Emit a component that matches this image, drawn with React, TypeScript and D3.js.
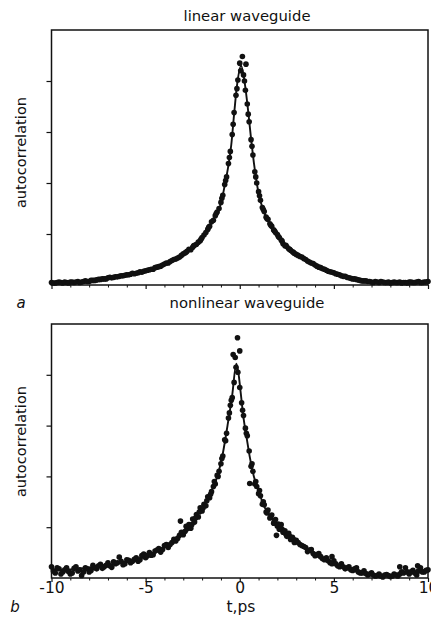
import React, { useEffect, useRef } from 'react';
import * as d3 from 'd3';

type Pt = [number, number];

// axis ticks (t in ps, autocorrelation in arbitrary units)
const xTicks = [-10, -5, 0, 5, 10];
const xMinorTicks = [-9, -8, -7, -6, -4, -3, -2, -1, 1, 2, 3, 4, 6, 7, 8, 9];
const yTicks = [1, 2, 3, 4];
const panelTitles = ['linear waveguide', 'nonlinear waveguide'];
const panelLetters = ['a', 'b'];
const xLabel = 't,ps';
const yLabel = 'autocorrelation';

// panel a: measured points
const linearDots: Pt[] = [
    [-10.0, 0.05], [-9.8, 0.04], [-9.6, 0.06], [-9.4, 0.04], [-9.2, 0.05], [-9.0, 0.06], [-8.8, 0.05],
    [-8.6, 0.07], [-8.4, 0.06], [-8.2, 0.08], [-8.0, 0.07], [-7.8, 0.09], [-7.6, 0.1], [-7.4, 0.11],
    [-7.2, 0.12], [-7.0, 0.14], [-6.8, 0.14], [-6.6, 0.16], [-6.4, 0.17], [-6.2, 0.18], [-6.0, 0.2],
    [-5.8, 0.21], [-5.6, 0.22], [-5.4, 0.24], [-5.2, 0.25], [-5.0, 0.28], [-4.8, 0.3], [-4.6, 0.31],
    [-4.4, 0.35], [-4.2, 0.37], [-4.0, 0.41], [-3.8, 0.43], [-3.6, 0.48], [-3.4, 0.51], [-3.2, 0.55],
    [-9.9, 0.04], [-9.7, 0.05], [-9.5, 0.05], [-9.3, 0.06], [-9.1, 0.04], [-8.9, 0.06], [-8.7, 0.06],
    [-8.5, 0.05], [-8.3, 0.07], [-8.1, 0.07], [-7.9, 0.09], [-7.7, 0.09], [-7.5, 0.11], [-7.3, 0.12],
    [-7.1, 0.12], [-6.9, 0.15], [-6.7, 0.15], [-6.5, 0.16], [-6.3, 0.18], [-6.1, 0.19], [-5.9, 0.2],
    [-5.7, 0.23], [-5.5, 0.23], [-5.3, 0.26], [-5.1, 0.27], [-4.9, 0.29], [-4.7, 0.31], [-4.5, 0.34],
    [-4.3, 0.36], [-4.1, 0.39], [-3.9, 0.43], [-3.7, 0.46], [-3.5, 0.5], [-3.3, 0.53], [-3.1, 0.58],
    [-3.0, 0.61], [-2.9, 0.63], [-2.8, 0.66], [-2.7, 0.7], [-2.6, 0.69], [-2.5, 0.74], [-2.4, 0.78],
    [-2.3, 0.8], [-2.2, 0.84], [-2.1, 0.87], [-2.0, 0.93], [-1.9, 0.98], [-1.8, 1.03], [-1.7, 1.09],
    [-1.6, 1.15], [-1.5, 1.24], [-1.4, 1.27], [-1.3, 1.36], [-1.2, 1.43], [-1.1, 1.5], [-1.0, 1.62],
    [-2.85, 0.64], [-2.45, 0.77], [-2.05, 0.9], [-1.65, 1.13], [-1.25, 1.4], [-0.95, 1.7],
    [-0.75, 2.05], [-0.55, 2.5], [-0.35, 3.15], [-0.15, 3.85],
    [-0.9, 1.76], [-0.8, 1.97], [-0.7, 2.12], [-0.6, 2.38], [-0.5, 2.62], [-0.4, 2.95], [-0.3, 3.38],
    [-0.2, 3.72], [-0.1, 4.02], [0.0, 4.35], [0.05, 4.2], [0.14, 4.48], [0.33, 4.33], [0.2, 4.12],
    [0.3, 3.82], [0.4, 3.55], [0.5, 3.2], [0.6, 2.85], [0.7, 2.55], [0.8, 2.22], [0.9, 2.0],
    [0.25, 4.0], [0.45, 3.35], [0.65, 2.72], [0.85, 2.12], [1.05, 1.75], [1.25, 1.48], [1.45, 1.3],
    [1.65, 1.17], [1.85, 1.06], [2.05, 0.95], [2.25, 0.86], [2.45, 0.78], [2.65, 0.7], [2.85, 0.64],
    [1.0, 1.83], [1.1, 1.66], [1.2, 1.52], [1.3, 1.44], [1.4, 1.33], [1.5, 1.29], [1.6, 1.2],
    [1.7, 1.15], [1.8, 1.08], [1.9, 1.03], [2.0, 0.99], [2.1, 0.93], [2.2, 0.88], [2.3, 0.81],
    [2.4, 0.77], [2.5, 0.75], [2.6, 0.71], [2.7, 0.68], [2.8, 0.65], [2.9, 0.62], [3.0, 0.6],
    [3.2, 0.56], [3.4, 0.52], [3.6, 0.47], [3.8, 0.43], [4.0, 0.39], [4.2, 0.35], [4.4, 0.32],
    [4.6, 0.29], [4.8, 0.26], [5.0, 0.24], [5.2, 0.21], [5.4, 0.18], [5.6, 0.17], [5.8, 0.14],
    [6.0, 0.12], [6.2, 0.11], [6.4, 0.09], [6.6, 0.08], [6.8, 0.07], [7.0, 0.06], [7.2, 0.07],
    [7.4, 0.05], [7.6, 0.06], [7.8, 0.05], [8.0, 0.04], [8.2, 0.06], [8.4, 0.05], [8.6, 0.04],
    [8.8, 0.05], [9.0, 0.06], [9.2, 0.05], [9.4, 0.06], [9.6, 0.05], [9.8, 0.06], [10.0, 0.07],
    [3.1, 0.58], [3.3, 0.55], [3.5, 0.5], [3.7, 0.45], [3.9, 0.42], [4.1, 0.37], [4.3, 0.34],
    [4.5, 0.31], [4.7, 0.27], [4.9, 0.25], [5.1, 0.22], [5.3, 0.2], [5.5, 0.17], [5.7, 0.15],
    [5.9, 0.13], [6.1, 0.12], [6.3, 0.1], [6.5, 0.08], [6.7, 0.08], [6.9, 0.07], [7.1, 0.05],
    [7.3, 0.06], [7.5, 0.07], [7.7, 0.05], [7.9, 0.06], [8.1, 0.05], [8.3, 0.05], [8.5, 0.06],
    [8.7, 0.05], [8.9, 0.04], [9.1, 0.06], [9.3, 0.05], [9.5, 0.07], [9.7, 0.05], [9.9, 0.06],
];

// panel a: fitted curve
const linearFit: Pt[] = [
    [-10, 0.04], [-9, 0.05], [-8, 0.08], [-7, 0.13], [-6, 0.19], [-5, 0.27], [-4.5, 0.33], [-4, 0.4],
    [-3.5, 0.5], [-3, 0.6], [-2.5, 0.73], [-2, 0.92], [-1.5, 1.22], [-1.2, 1.42], [-1, 1.6],
    [-0.8, 1.95], [-0.6, 2.35], [-0.45, 2.75], [-0.3, 3.35], [-0.15, 3.9], [0.07, 4.3], [0.27, 3.95],
    [0.45, 3.4], [0.62, 2.8], [0.75, 2.4], [1, 1.8], [1.3, 1.42], [1.7, 1.14], [2, 0.98], [2.4, 0.78],
    [3, 0.6], [3.5, 0.49], [4, 0.38], [4.5, 0.3], [5, 0.23], [5.5, 0.17], [6, 0.12], [6.5, 0.08],
    [7, 0.06], [8, 0.05], [9, 0.05], [10, 0.06],
];

// panel b: measured points
const nonlinearDots: Pt[] = [
    [-10.0, 0.22], [-9.8, 0.1], [-9.6, 0.18], [-9.4, 0.12], [-9.2, 0.2], [-9.0, 0.08], [-8.8, 0.19],
    [-8.6, 0.14], [-8.4, 0.05], [-8.2, 0.2], [-8.0, 0.12], [-7.8, 0.25], [-7.6, 0.18], [-7.4, 0.27],
    [-7.2, 0.22], [-7.0, 0.3], [-6.8, 0.21], [-6.6, 0.28], [-6.4, 0.41], [-6.2, 0.26], [-6.0, 0.36],
    [-5.8, 0.3], [-5.6, 0.37], [-5.4, 0.33], [-5.2, 0.44], [-5.0, 0.4], [-4.8, 0.5], [-4.6, 0.46],
    [-4.4, 0.55], [-4.2, 0.51], [-4.0, 0.64], [-3.8, 0.6], [-3.6, 0.7], [-3.4, 0.73], [-3.2, 0.84],
    [-9.9, 0.14], [-9.7, 0.2], [-9.5, 0.08], [-9.3, 0.16], [-9.1, 0.13], [-8.9, 0.1], [-8.7, 0.22],
    [-8.5, 0.16], [-8.3, 0.12], [-8.1, 0.18], [-7.9, 0.15], [-7.7, 0.2], [-7.5, 0.24], [-7.3, 0.19],
    [-7.1, 0.25], [-6.9, 0.24], [-6.7, 0.32], [-6.5, 0.3], [-6.3, 0.33], [-6.1, 0.28], [-5.9, 0.35],
    [-5.7, 0.33], [-5.5, 0.4], [-5.3, 0.36], [-5.1, 0.47], [-4.9, 0.44], [-4.7, 0.45], [-4.5, 0.53],
    [-4.3, 0.58], [-4.1, 0.56], [-3.9, 0.66], [-3.7, 0.66], [-3.5, 0.76], [-3.3, 0.78], [-3.1, 0.9],
    [-3.0, 0.85], [-3.15, 1.12], [-2.9, 0.92], [-2.8, 0.97], [-2.7, 1.05], [-2.6, 0.98], [-2.5, 1.16],
    [-2.4, 1.1], [-2.3, 1.25], [-2.2, 1.2], [-2.1, 1.38], [-2.0, 1.32], [-1.9, 1.45], [-1.8, 1.42],
    [-1.7, 1.6], [-1.6, 1.58], [-1.5, 1.7], [-1.4, 1.8], [-1.3, 1.85], [-1.2, 2.02], [-1.1, 2.1],
    [-2.85, 1.02], [-2.55, 1.05], [-2.35, 1.18], [-2.15, 1.3], [-1.95, 1.38], [-1.75, 1.52],
    [-1.55, 1.65], [-1.35, 1.9], [-1.15, 2.0], [-0.95, 2.35], [-0.75, 2.7], [-0.55, 3.25], [-0.45, 3.5],
    [-1.0, 2.25], [-0.9, 2.4], [-0.8, 2.72], [-0.7, 2.85], [-0.6, 3.15], [-0.5, 3.4], [-0.4, 3.55],
    [-0.35, 4.4], [-0.3, 3.85], [-0.24, 4.34], [-0.2, 4.15], [-0.12, 4.73], [-0.1, 4.05], [0.0, 4.47],
    [0.0, 3.75], [0.1, 3.45], [0.2, 3.2], [0.3, 2.95], [0.4, 2.8], [0.5, 2.5], [0.53, 1.86],
    [0.15, 3.3], [0.35, 2.85], [0.65, 2.25], [0.85, 1.9], [1.05, 1.72], [1.25, 1.5], [1.45, 1.28],
    [1.65, 1.2], [1.85, 1.12], [2.05, 1.06], [2.25, 0.96], [2.45, 0.86], [2.65, 0.82], [2.85, 0.76],
    [0.6, 2.2], [0.7, 2.1], [0.8, 1.85], [0.9, 1.8], [1.0, 1.66], [1.1, 1.62], [1.2, 1.45],
    [1.3, 1.44], [1.4, 1.3], [1.5, 1.34], [1.6, 1.18], [1.7, 1.24], [1.8, 1.08], [1.9, 1.15],
    [1.95, 0.84], [2.0, 1.02], [2.1, 0.96], [2.2, 1.05], [2.3, 0.9], [2.4, 0.93], [2.5, 0.82],
    [2.6, 0.88], [2.7, 0.76], [2.8, 0.8], [2.9, 0.7], [3.0, 0.74], [3.2, 0.66], [3.4, 0.62],
    [3.6, 0.52], [3.8, 0.56], [4.0, 0.44], [4.2, 0.48], [4.4, 0.38], [4.6, 0.4], [4.8, 0.3],
    [4.9, 0.42], [5.0, 0.34], [5.2, 0.24], [5.4, 0.28], [5.6, 0.18], [5.8, 0.22], [6.0, 0.15],
    [6.2, 0.2], [6.4, 0.1], [6.6, 0.14], [6.8, 0.06], [7.0, 0.1], [7.2, 0.04], [7.4, 0.08],
    [7.6, 0.02], [7.8, 0.07], [8.0, 0.03], [8.2, 0.08], [8.4, 0.04], [8.5, 0.22], [8.6, 0.12],
    [8.8, 0.2], [9.0, 0.08], [9.2, 0.15], [9.4, 0.06], [9.45, 0.24], [9.6, 0.2], [9.8, 0.12],
    [10.0, 0.16],
    [3.1, 0.7], [3.3, 0.64], [3.5, 0.6], [3.7, 0.55], [3.9, 0.48], [4.1, 0.46], [4.3, 0.42],
    [4.5, 0.36], [4.7, 0.34], [4.9, 0.28], [5.1, 0.28], [5.3, 0.22], [5.5, 0.22], [5.7, 0.2],
    [5.9, 0.16], [6.1, 0.18], [6.3, 0.12], [6.5, 0.1], [6.7, 0.09], [6.9, 0.08], [7.1, 0.06],
    [7.3, 0.05], [7.5, 0.04], [7.7, 0.06], [7.9, 0.05], [8.1, 0.04], [8.3, 0.06], [8.5, 0.08],
    [8.7, 0.1], [8.9, 0.12], [9.1, 0.12], [9.3, 0.1], [9.5, 0.14], [9.7, 0.12], [9.9, 0.15],
];

// panel b: fitted curve
const nonlinearFit: Pt[] = [
    [-10, 0.15], [-9, 0.17], [-8, 0.21], [-7, 0.26], [-6, 0.32], [-5, 0.42], [-4, 0.6], [-3.5, 0.72],
    [-3, 0.88], [-2.5, 1.1], [-2.1, 1.33], [-1.8, 1.5], [-1.5, 1.72], [-1.15, 2.05], [-0.9, 2.45],
    [-0.65, 3.0], [-0.4, 3.6], [-0.18, 4.22], [-0.05, 3.98], [0.05, 3.65], [0.2, 3.15], [0.35, 2.8],
    [0.55, 2.35], [0.75, 2.0], [1, 1.72], [1.25, 1.45], [1.6, 1.22], [2, 1.05], [2.3, 0.93],
    [3, 0.72], [3.5, 0.58], [4, 0.45], [4.5, 0.35], [5, 0.27], [5.5, 0.2], [6, 0.14], [6.5, 0.09],
    [7, 0.06], [7.5, 0.05], [8, 0.05], [8.5, 0.07], [9, 0.1], [9.5, 0.12], [10, 0.14],
];

const W = 431;
const H = 618;
const FONT = '"DejaVu Sans", Arial, sans-serif';
const INK = '#111';

export default function App() {
    const ref = useRef<SVGSVGElement>(null);

    useEffect(() => {
        const svg = d3.select(ref.current);
        svg.selectAll('*').remove();

        const panels = [
            { dots: linearDots, fit: linearFit, top: 30, bottom: 285, titleY: 21, letterY: 308, labelY: 152.5, ticksLabeled: false },
            { dots: nonlinearDots, fit: nonlinearFit, top: 324, bottom: 578, titleY: 308, letterY: 612, labelY: 441.5, ticksLabeled: true },
        ];

        const x = d3.scaleLinear().domain([-10, 10]).range([51.5, 428]);

        panels.forEach((p, i) => {
            const y = d3.scaleLinear().domain([0, 5]).range([p.bottom, p.top]);
            const g = svg.append('g');

            // minor ticks on t axis
            g.append('g')
                .attr('transform', 'translate(0,' + p.bottom + ')')
                .call(d3.axisBottom(x).tickValues(xMinorTicks).tickSize(2.5).tickFormat(() => ''))
                .call((a) => a.select('.domain').remove())
                .selectAll('line')
                .attr('stroke', INK);

            // major ticks
            const xa = g
                .append('g')
                .attr('transform', 'translate(0,' + p.bottom + ')')
                .call(
                    d3
                        .axisBottom(x)
                        .tickValues(xTicks)
                        .tickSize(4)
                        .tickPadding(0)
                        .tickFormat((d) => (p.ticksLabeled ? String(d) : ''))
                );
            xa.select('.domain').remove();
            xa.selectAll('line').attr('stroke', INK).attr('stroke-width', 1.2);
            xa.selectAll('text').attr('font-family', FONT).attr('font-size', 15.5).attr('fill', INK);

            const ya = g
                .append('g')
                .attr('transform', 'translate(51.5,0)')
                .call(d3.axisLeft(y).tickValues(yTicks).tickSize(5).tickFormat(() => ''));
            ya.select('.domain').remove();
            ya.selectAll('line').attr('stroke', INK).attr('stroke-width', 1.2);

            // frame
            g.append('rect')
                .attr('x', x(-10))
                .attr('y', p.top)
                .attr('width', x(10) - x(-10))
                .attr('height', p.bottom - p.top)
                .attr('fill', 'none')
                .attr('stroke', INK)
                .attr('stroke-width', 1.5);

            // fitted curve
            const line = d3
                .line<Pt>()
                .x((d) => x(d[0]))
                .y((d) => y(d[1]))
                .curve(d3.curveMonotoneX);
            g.append('path')
                .datum(p.fit)
                .attr('d', line)
                .attr('fill', 'none')
                .attr('stroke', INK)
                .attr('stroke-width', 1.9);

            // measured points
            g.selectAll('circle.dot')
                .data(p.dots)
                .enter()
                .append('circle')
                .attr('class', 'dot')
                .attr('cx', (d) => x(d[0]))
                .attr('cy', (d) => y(d[1]))
                .attr('r', 2.8)
                .attr('fill', INK);

            g.append('text')
                .attr('x', 247)
                .attr('y', p.titleY)
                .attr('text-anchor', 'middle')
                .attr('font-family', FONT)
                .attr('font-size', 14.8)
                .attr('fill', INK)
                .text(panelTitles[i]);

            g.append('text')
                .attr('transform', 'translate(26,' + p.labelY + ') rotate(-90)')
                .attr('text-anchor', 'middle')
                .attr('font-family', FONT)
                .attr('font-size', 14.6)
                .attr('fill', INK)
                .text(yLabel);

            g.append('text')
                .attr('x', i === 0 ? 21 : 15)
                .attr('y', p.letterY)
                .attr('text-anchor', 'middle')
                .attr('font-family', FONT)
                .attr('font-style', 'italic')
                .attr('font-size', 15)
                .attr('fill', INK)
                .text(panelLetters[i]);
        });

        svg.append('text')
            .attr('x', 241)
            .attr('y', 612)
            .attr('text-anchor', 'middle')
            .attr('font-family', FONT)
            .attr('font-size', 15.5)
            .attr('fill', INK)
            .text(xLabel);
    }, []);

    return (
        <svg
            ref={ref}
            width={W}
            height={H}
            style={{ position: 'absolute', left: 0, top: 0, background: '#fff' }}
        />
    );
}
